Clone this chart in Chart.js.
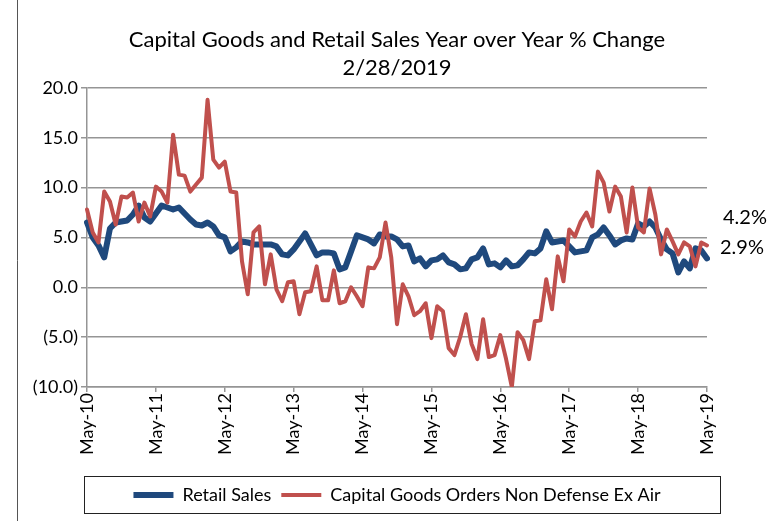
<!DOCTYPE html>
<html lang="en">
<head>
<meta charset="UTF-8">
<title>Capital Goods and Retail Sales</title>
<script src="https://cdn.jsdelivr.net/npm/chart.js"></script>
<style>
  html, body { margin: 0; padding: 0; background: #fff; }
</style>
</head>
<body>
<canvas id="myChart" width="779" height="521"></canvas>
<script>
// axis labels, one every 12 months
const tickLabels = ['May-10', 'May-11', 'May-12', 'May-13', 'May-14', 'May-15', 'May-16', 'May-17', 'May-18', 'May-19'];

// year over year % change, monthly from May-10
const retailSales = [
  6.5, 5.0, 4.2, 3.0, 5.9, 6.5, 6.6, 6.7, 7.3, 8.2,
  7.0, 6.6, 7.4, 8.2, 8.0, 7.8, 8.0, 7.4, 6.8, 6.3,
  6.2, 6.5, 6.1, 5.2, 5.0, 3.6, 4.0, 4.6, 4.5, 4.3,
  4.3, 4.3, 4.3, 4.1, 3.3, 3.2, 3.8, 4.6, 5.4, 4.3,
  3.2, 3.5, 3.5, 3.4, 1.8, 2.0, 3.6, 5.2, 5.0, 4.8,
  4.4, 5.3, 5.1, 5.1, 4.8, 4.1, 4.2, 2.6, 2.9, 2.1,
  2.7, 2.8, 3.2, 2.5, 2.3, 1.8, 1.9, 2.8, 3.0, 3.9,
  2.3, 2.4, 2.0, 2.7, 2.1, 2.2, 2.8, 3.5, 3.4, 3.9,
  5.6, 4.5, 4.6, 4.7, 4.1, 3.5, 3.6, 3.7, 5.0, 5.3,
  6.0, 5.2, 4.3, 4.7, 4.9, 4.8, 6.4, 6.1, 6.6, 6.0,
  4.8, 3.8, 3.4, 1.5, 2.6, 1.9, 3.9, 3.7, 2.9
];
const capitalGoods = [
  7.8, 5.5, 4.5, 9.6, 8.6, 6.3, 9.1, 9.0, 9.5, 6.6,
  8.5, 7.1, 10.1, 9.6, 8.5, 15.3, 11.3, 11.2, 9.6, 10.3,
  11.0, 18.8, 12.8, 12.0, 12.6, 9.6, 9.5, 2.6, -0.7, 5.5,
  6.1, 0.3, 3.3, -0.2, -1.4, 0.5, 0.6, -2.7, -0.5, -0.4,
  2.1, -1.3, -1.3, 1.7, -1.6, -1.4, 0.0, -0.9, -1.9, 2.0,
  1.9, 3.0, 6.5, 3.0, -3.7, 0.3, -0.9, -2.8, -2.4, -1.6,
  -5.1, -1.9, -2.4, -6.1, -6.8, -5.0, -2.7, -5.7, -7.2, -3.2,
  -7.0, -6.8, -4.8, -7.2, -10.0, -4.5, -5.3, -7.2, -3.4, -3.3,
  0.8, -2.2, 3.1, 0.6, 5.8, 5.1, 6.6, 7.5, 6.1, 11.6,
  10.5, 7.6, 10.1, 9.1, 5.5, 10.0, 6.0, 5.5, 9.9, 7.3,
  3.3, 5.8, 4.6, 3.3, 4.5, 4.1, 2.1, 4.5, 4.2
];

const monthNames = ['Jan', 'Feb', 'Mar', 'Apr', 'May', 'Jun', 'Jul', 'Aug', 'Sep', 'Oct', 'Nov', 'Dec'];
const categories = [];
for (let i = 0; i < retailSales.length; i++) {
  const m = (4 + i) % 12;
  const yr = 10 + Math.floor((4 + i) / 12);
  categories.push(monthNames[m] + '-' + yr);
}

const FONT = 'Lato';
const GRID = '#959595';

// thin border of the chart area on the left
const frameLine = {
  id: 'frameLine',
  afterDraw(chart) {
    const ctx = chart.ctx;
    ctx.save();
    ctx.strokeStyle = '#555';
    ctx.lineWidth = 1;
    ctx.beginPath();
    ctx.moveTo(17.5, 0);
    ctx.lineTo(17.5, chart.height);
    ctx.stroke();
    ctx.restore();
  }
};

// box around the legend
const legendFrame = {
  id: 'legendFrame',
  afterDraw(chart) {
    const lg = chart.legend;
    const a = chart.chartArea;
    const ctx = chart.ctx;
    ctx.save();
    ctx.strokeStyle = '#222';
    ctx.lineWidth = 1;
    ctx.strokeRect(Math.round(a.left - 3) + 0.5, Math.round(lg.top) + 0.5,
      Math.round(a.right - a.left + 16), Math.round(lg.height) - 1);
    ctx.restore();
  }
};

// last value labels to the right of the lines
const endLabels = {
  id: 'endLabels',
  afterDatasetsDraw(chart) {
    const ctx = chart.ctx;
    const offsets = [[13, -11], [16, -28]];
    ctx.save();
    ctx.font = '20px ' + FONT;
    ctx.fillStyle = '#000';
    ctx.textAlign = 'left';
    ctx.textBaseline = 'middle';
    chart.data.datasets.forEach((ds, i) => {
      const meta = chart.getDatasetMeta(i);
      const pt = meta.data[meta.data.length - 1];
      const v = ds.data[ds.data.length - 1];
      ctx.fillText(v.toFixed(1) + '%', pt.x + offsets[i][0], pt.y + offsets[i][1]);
    });
    ctx.restore();
  }
};

new Chart(document.getElementById('myChart'), {
  type: 'line',
  data: {
    labels: categories,
    datasets: [{
      label: 'Retail Sales',
      data: retailSales,
      borderColor: '#1F497D',
      backgroundColor: '#1F497D',
      borderWidth: 6,
      borderCapStyle: 'round',
      borderJoinStyle: 'round',
      pointRadius: 0,
      tension: 0,
      order: 2
    }, {
      label: 'Capital Goods Orders Non Defense Ex Air',
      data: capitalGoods,
      borderColor: '#C0504D',
      backgroundColor: '#C0504D',
      borderWidth: 4,
      borderCapStyle: 'round',
      borderJoinStyle: 'round',
      pointRadius: 0,
      tension: 0,
      order: 1
    }]
  },
  options: {
    responsive: false,
    animation: false,
    events: [],
    layout: { padding: { left: 17, right: 72, top: 26, bottom: 7 } },
    scales: {
      x: {
        type: 'category',
        offset: false,
        grid: {
          drawOnChartArea: false,
          drawTicks: true,
          tickLength: 5,
          tickColor: (c) => (c.index % 12 === 0 ? GRID : 'rgba(0,0,0,0)'),
          lineWidth: 1.5
        },
        border: { color: GRID, width: 1.5 },
        ticks: {
          autoSkip: false,
          maxRotation: 90,
          minRotation: 90,
          padding: 1,
          color: '#000',
          font: { family: FONT, size: 18 },
          callback: (val, idx) => (idx % 12 === 0 ? tickLabels[idx / 12] : '')
        },
        afterFit: (s) => { s.height = 89; }
      },
      y: {
        min: -10,
        max: 20,
        grid: { color: GRID, lineWidth: 1.5, tickLength: 6 },
        border: { color: GRID, width: 1.5 },
        ticks: {
          stepSize: 5,
          padding: 3,
          color: '#000',
          font: { family: FONT, size: 18 },
          callback: (v) => (v < 0 ? '(' + Math.abs(v).toFixed(1) + ')' : v.toFixed(1))
        },
        afterFit: (s) => { s.width = 70; }
      }
    },
    plugins: {
      title: {
        display: true,
        fullSize: false,
        text: ['Capital Goods and Retail Sales Year over Year % Change', '2/28/2019'],
        color: '#000',
        font: { family: FONT, size: 22, weight: 'normal', lineHeight: 1.27 },
        padding: { top: 0, bottom: 6 }
      },
      legend: {
        position: 'bottom',
        fullSize: false,
        labels: {
          usePointStyle: true,
          pointStyle: 'line',
          pointStyleWidth: 40,
          padding: 10,
          color: '#000',
          font: { family: FONT, size: 18 },
          sort: (a, b) => a.datasetIndex - b.datasetIndex
        }
      },
      tooltip: { enabled: false }
    }
  },
  plugins: [frameLine, legendFrame, endLabels]
});
</script>
</body>
</html>
